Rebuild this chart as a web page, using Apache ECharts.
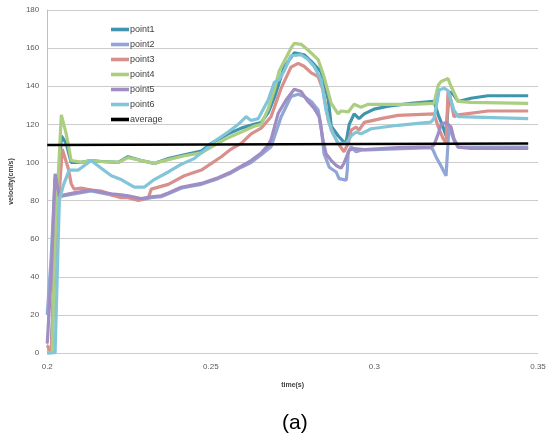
<!DOCTYPE html>
<html>
<head>
<meta charset="utf-8">
<script src="https://cdn.jsdelivr.net/npm/echarts@6/dist/echarts.min.js"></script>
<style>html,body{margin:0;padding:0;background:#fff;}#c{width:549px;height:441px;}</style>
</head>
<body>
<div id="c"></div>
<script>
// ---- data (time in s, velocity in cm/s) ----
const seriesNames = ['point1','point2','point3','point4','point5','point6','average'];
const xTicks = [0.2, 0.25, 0.3, 0.35];
const yTicks = [0,20,40,60,80,100,120,140,160,180];

const p1T = [0.2,0.2012,0.2021,0.2043,0.2058,0.2073,0.2104,0.2134,0.2165,0.2217,0.2247,0.2287,0.2327,0.2370,0.2419,0.2471,0.2501,0.2553,0.2593,0.2632,0.2654,0.2675,0.2694,0.2724,0.2755,0.2785,0.2807,0.2837,0.2859,0.2868,0.2889,0.2905,0.2914,0.2923,0.2938,0.2953,0.2969,0.2999,0.3042,0.3112,0.3182,0.3195,0.3210,0.3219,0.3225,0.3228,0.3240,0.3256,0.3295,0.3347,0.347];
const p1V = [0,0,40,114,110,100,100,101,100.5,100,103,101,99.5,102,104,106,110,115,118,120,121,126,134,150,157.5,156.5,153,147.5,133,119,114,111,110.8,120,125.5,123,125.5,128,129.5,131,132,125,118.5,114,113,137,136,132,133.7,135,135];

const p2T = [0.2,0.2012,0.2024,0.2037,0.2052,0.2082,0.2134,0.2165,0.2196,0.2226,0.2247,0.2287,0.2318,0.2348,0.2370,0.2409,0.2440,0.2471,0.2522,0.2562,0.2593,0.2623,0.2654,0.2684,0.2715,0.2745,0.2767,0.2785,0.2807,0.2828,0.2837,0.2846,0.2862,0.2883,0.2892,0.2914,0.2917,0.2920,0.2929,0.2944,0.2959,0.3020,0.3173,0.3179,0.3188,0.3204,0.3219,0.3225,0.3228,0.3234,0.3243,0.3256,0.347];
const p2V = [20,50,92,82,82.5,83.5,85,84,83,82.5,82,80.5,81.5,82,83.5,86.5,87.5,88.5,91.5,94.5,97.5,100,104,108.2,124,134.6,135.8,134.6,132,127.5,118.8,104.6,97.5,95,91.5,90.7,96,105.6,108.2,105.6,106.4,106.8,107.8,106.6,103,98,93,92,119,120,111.6,108,108];

const p3T = [0.2,0.2012,0.2027,0.2046,0.2064,0.2073,0.2082,0.2104,0.2134,0.2165,0.2196,0.2226,0.2247,0.2278,0.2309,0.2318,0.2370,0.2419,0.2471,0.2532,0.2562,0.2593,0.2623,0.2654,0.2684,0.2715,0.2745,0.2767,0.2785,0.2807,0.2828,0.2843,0.2859,0.2874,0.2889,0.2907,0.2920,0.2929,0.2944,0.2953,0.2969,0.3020,0.3072,0.3182,0.3195,0.3210,0.3219,0.3222,0.3225,0.3231,0.3243,0.3256,0.3347,0.347];
const p3V = [4,0,60,107,97,89,86,86.5,85.5,85,83,81.5,81.5,80,81.5,86,88.5,93,96,103,107,110,115,118,124,139,150,152,150.5,147,145,138,122,115,110,105.6,110,117,118.6,117,121,123,124.7,125.5,118.7,112.5,110,111,137,135,124,125,127,127];

const p4T = [0.2,0.2015,0.2024,0.2043,0.2058,0.2073,0.2104,0.2134,0.2165,0.2217,0.2247,0.2287,0.2327,0.2370,0.2419,0.2471,0.2501,0.2553,0.2593,0.2632,0.2654,0.2675,0.2694,0.2709,0.2724,0.2745,0.2755,0.2776,0.2797,0.2828,0.2846,0.2868,0.2889,0.2898,0.2920,0.2938,0.2959,0.2981,0.3020,0.3112,0.3182,0.3195,0.3204,0.3225,0.3234,0.3256,0.3295,0.347];
const p4V = [0,0,60,125,115,101,100,101,100.5,100,102.5,101,99.5,101.5,103.5,105,108,113,116,119,120,128,138,148,153,160,162.5,162,159,154,145,131,125.5,127,126.5,130.5,129,130.5,130.5,130.5,131,140.5,142.5,144,140,132,131.5,131];

const p5T = [0.2,0.2012,0.2024,0.2037,0.2052,0.2082,0.2134,0.2165,0.2196,0.2226,0.2247,0.2287,0.2318,0.2348,0.2370,0.2409,0.2440,0.2471,0.2522,0.2562,0.2593,0.2623,0.2654,0.2675,0.2684,0.2706,0.2730,0.2755,0.2776,0.2797,0.2816,0.2831,0.2843,0.2852,0.2868,0.2883,0.2898,0.2907,0.2923,0.2938,0.2969,0.3072,0.3173,0.3182,0.3195,0.3204,0.3219,0.3234,0.3243,0.3256,0.3295,0.347];
const p5V = [5,40,94,82,83,84,85.5,84.5,83.5,83,82.5,81,82,82.5,84,87,88,89,92,95,98,101,105,109,112,125.8,132.8,138.4,137.2,132,128.4,124,111.7,104.6,101,98.4,97,99.6,106.4,107.3,106.8,107.8,108.2,109,115,120,121,118.6,112.5,108,107.4,107.4];

const p6T = [0.2,0.2024,0.2037,0.2049,0.2067,0.2095,0.2134,0.2165,0.2196,0.2226,0.2266,0.2296,0.2327,0.2370,0.2409,0.2449,0.2492,0.2510,0.2553,0.2584,0.2608,0.2623,0.2645,0.2654,0.2675,0.2694,0.2709,0.2724,0.2745,0.2776,0.2797,0.2816,0.2837,0.2852,0.2868,0.2889,0.2898,0.2914,0.2929,0.2944,0.2959,0.2990,0.3072,0.3173,0.3182,0.3198,0.3213,0.3225,0.3243,0.3256,0.347];
const p6V = [0,0,80,88,96,96,101,97,93,91,87,87,91,95,99,102,108,111,116,120,124,122,123,126,132.6,142,143.5,148,156,156.5,154,150.3,143.4,127.5,117,110,110,110,114,116,115,117.7,119.5,121.2,123,138,139,137.6,127.5,124,123];

const avgT = [0.2, 0.347];
const avgV = [109.2, 110];

const colors = ['#3F95AD','#8FA6D6','#D98F8B','#ABCE81','#A08DC3','#82C5D8','#000000'];

// ---- build ----
const pairs = (t, v) => t.map((x, i) => [x, v[i]]);
const allData = [pairs(p1T,p1V), pairs(p2T,p2V), pairs(p3T,p3V), pairs(p4T,p4V), pairs(p5T,p5V), pairs(p6T,p6V), pairs(avgT,avgV)];

const chart = echarts.init(document.getElementById('c'), null, {renderer: 'canvas'});
const labelFont = {fontFamily: 'Liberation Sans, Arial, sans-serif', fontSize: 8, color: '#595959'};

chart.setOption({
  animation: false,
  backgroundColor: '#ffffff',
  color: colors,
  grid: {left: 46, right: 11, top: 10, bottom: 88, containLabel: false},
  legend: {
    orient: 'vertical',
    left: 106, top: 20,
    itemWidth: 18, itemHeight: 12, itemGap: 6,
    data: seriesNames,
    textStyle: {fontFamily: 'Liberation Sans, Arial, sans-serif', fontSize: 9, color: '#404040', padding: [0,0,0,-4]},
    icon: 'path://M0,0 L20,0 L20,4 L0,4 Z'
  },
  xAxis: {
    type: 'value', min: 0.2, max: 0.35, interval: 0.05,
    name: 'time(s)', nameLocation: 'middle', nameGap: 29,
    nameTextStyle: {fontFamily: 'Liberation Sans, Arial, sans-serif', fontSize: 7, fontWeight: 'bold', color: '#404040'},
    axisLine: {show: false}, axisTick: {show: false},
    splitLine: {show: false},
    axisLabel: Object.assign({margin: 10, formatter: v => String(+v.toFixed(2))}, labelFont)
  },
  yAxis: {
    type: 'value', min: 0, max: 180, interval: 20,
    name: 'velocity(cm/s)', nameLocation: 'middle', nameGap: 27, nameRotate: 90,
    nameTextStyle: {fontFamily: 'Liberation Sans, Arial, sans-serif', fontSize: 7, fontWeight: 'bold', color: '#404040'},
    axisLine: {show: true, lineStyle: {color: '#BFBFBF', width: 1}},
    axisTick: {show: false},
    splitLine: {show: true, lineStyle: {color: '#CCCCCC', width: 1.2}},
    axisLabel: Object.assign({margin: 8}, labelFont)
  },
  graphic: [{
    type: 'text', left: 282, top: 413,
    style: {text: '(a)', font: '21px "Liberation Sans", Arial, sans-serif', fill: '#000'}
  }],
  series: allData.map((d, i) => ({
    name: seriesNames[i],
    type: 'line',
    data: d,
    symbol: 'none',
    smooth: false,
    lineStyle: {width: i === 6 ? 2.5 : 3.2, color: colors[i]},
    z: 2 + i
  }))
});
</script>
</body>
</html>
